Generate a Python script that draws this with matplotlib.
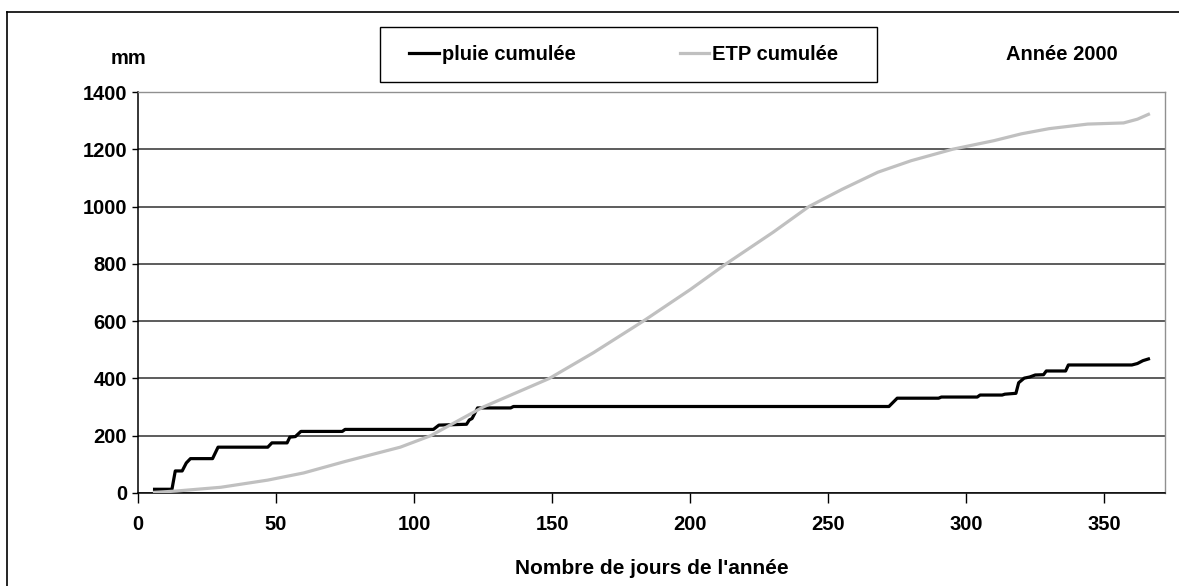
import matplotlib
matplotlib.use("Agg")
import matplotlib.pyplot as plt
from matplotlib.lines import Line2D
from matplotlib.patches import Rectangle

plt.rcParams['font.family'] = ['Liberation Sans', 'DejaVu Sans']

# --- data ---
pluie_days = [6, 12.3, 13.5, 16, 17.5, 19, 27, 29, 47, 48.5, 54, 55, 57, 59, 74, 75,
              107, 109, 119, 120, 121, 123, 135, 136, 272, 275, 290, 291, 304, 305,
              313, 314, 318, 319, 321, 323, 325, 328, 329, 336, 337, 360, 362, 364, 366]
pluie_mm = [13, 13, 77, 77, 105, 120, 120, 160, 160, 175, 175, 195, 197, 215, 215, 222,
            222, 237, 240, 255, 260, 297, 297, 302, 302, 331, 331, 335, 335, 342,
            342, 345, 348, 385, 401, 405, 412, 413, 426, 426, 447, 447, 452, 462, 468]

etp_days = [6, 14, 30, 47, 60, 75, 95, 106, 125, 149, 165, 183, 200, 213, 230, 243,
            255, 268, 280, 295, 310, 320, 330, 344, 357, 362, 366]
etp_mm = [2, 7, 20, 45, 70, 110, 160, 200, 300, 400, 490, 600, 710, 800, 910, 1000,
          1060, 1120, 1160, 1200, 1230, 1254, 1272, 1288, 1292, 1305, 1322]

x_ticks = [0, 50, 100, 150, 200, 250, 300, 350]
y_ticks = [0, 200, 400, 600, 800, 1000, 1200, 1400]

W, H = 1179, 586
fig = plt.figure(figsize=(W / 100, H / 100), dpi=100)
fig.patch.set_facecolor('white')

# outer frame
fig.add_artist(Line2D([7 / W, 7 / W], [0, 1 - 12 / H], color='black', lw=1.2, transform=fig.transFigure))
fig.add_artist(Line2D([7 / W, 1], [1 - 12 / H, 1 - 12 / H], color='black', lw=1.2, transform=fig.transFigure))

left, right, top, bottom = 138, 1165, 92, 493
ax = fig.add_axes([left / W, 1 - bottom / H, (right - left) / W, (bottom - top) / H])

ax.plot(pluie_days, pluie_mm, color='black', lw=2.3, label='pluie cumulée', zorder=3)
ax.plot(etp_days, etp_mm, color='#c0c0c0', lw=2.3, label='ETP cumulée', zorder=3)

ax.set_xlim(0, 372)
ax.set_ylim(0, 1400)
ax.set_xticks(x_ticks)
ax.set_yticks(y_ticks)
ax.yaxis.grid(True, color='#303030', lw=1.1)
ax.set_axisbelow(True)
for s in ['top', 'right']:
    ax.spines[s].set_color('#909090')
    ax.spines[s].set_linewidth(1.0)
for s in ['left', 'bottom']:
    ax.spines[s].set_color('black')
    ax.spines[s].set_linewidth(1.1)

ax.tick_params(axis='x', direction='out', length=7, width=1, pad=9, labelsize=14.5)
ax.tick_params(axis='y', direction='out', length=4, width=1, pad=4, labelsize=14.5)
for lab in ax.get_xticklabels() + ax.get_yticklabels():
    lab.set_fontweight('bold')

ax.set_xlabel("Nombre de jours de l'année", fontsize=15, fontweight='bold', labelpad=18)

# legend box
fig.add_artist(Rectangle((380 / W, 1 - 82 / H), 497 / W, 55 / H, transform=fig.transFigure,
                         fill=False, edgecolor='black', lw=1.0))
leg = ax.legend(loc='center', bbox_to_anchor=(624 / W, 1 - 54.5 / H),
                bbox_transform=fig.transFigure, ncol=2, frameon=False,
                fontsize=14.5, handlelength=1.45, handletextpad=0.15,
                columnspacing=5.2, borderpad=0.2, borderaxespad=0)
for t in leg.get_texts():
    t.set_fontweight('bold')

fig.text(129 / W, 1 - 58 / H, 'mm', ha='center', va='center', fontsize=14.5, fontweight='bold')
fig.text(1062 / W, 1 - 55 / H, 'Année 2000', ha='center', va='center', fontsize=14.5, fontweight='bold')

fig.savefig('out.png', dpi=100)
